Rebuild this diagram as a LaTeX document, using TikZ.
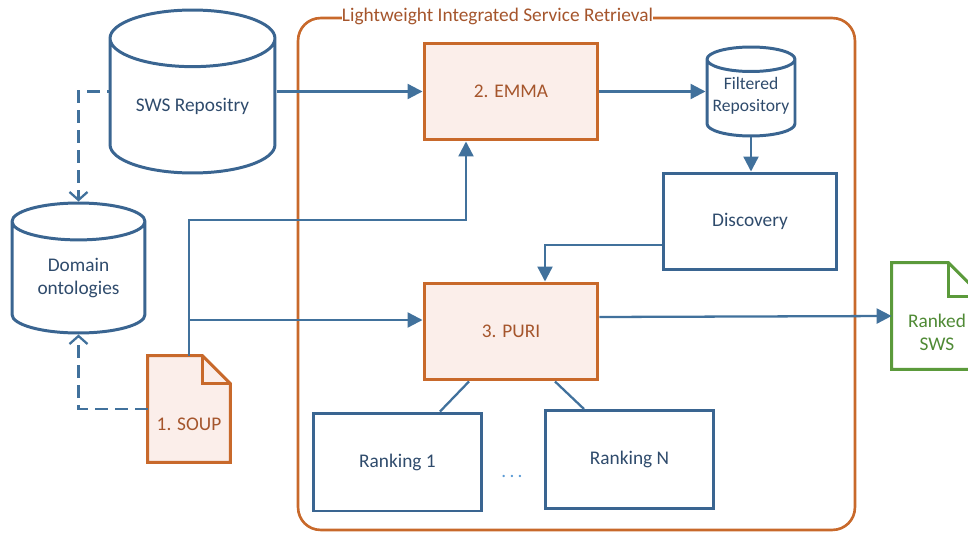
\documentclass[tikz,border=0pt]{standalone}
\usepackage{fontspec}
\setmainfont{Carlito}
\usetikzlibrary{shapes.geometric,arrows.meta,backgrounds,calc}

\definecolor{lnblue}{HTML}{41719C}
\definecolor{dbblue}{HTML}{3A6591}
\definecolor{dbtext}{HTML}{2F4B6C}
\definecolor{stageline}{HTML}{C8692B}
\definecolor{stagefill}{HTML}{FBEEEA}
\definecolor{stagetext}{HTML}{A5552C}
\definecolor{outgreen}{HTML}{5B9A3B}
\definecolor{outtext}{HTML}{4F8A35}
\definecolor{dotblue}{HTML}{5B9BD5}

\tikzset{
  store/.style={draw=dbblue, line width=1.7pt, shape=cylinder, shape border rotate=90,
    aspect=0.5, text=dbtext, align=center, inner sep=0pt, anchor=shape center},
  stage/.style={draw=stageline, fill=stagefill, line width=1.7pt, text=stagetext,
    minimum width=3.48cm, minimum height=1.94cm},
  block/.style={draw=dbblue, line width=1.7pt, text=dbtext,
    minimum width=3.38cm, minimum height=1.96cm},
  paper/.style={inner sep=0pt, align=center, text depth=0pt, text height=0.85cm},
  flow/.style={draw=lnblue, line width=1.3pt, -{Triangle[length=0.3cm,width=0.3cm]}},
  link/.style={draw=lnblue, line width=1.3pt},
  uses/.style={draw=lnblue, line width=1.3pt, dash pattern=on 0.26cm off 0.14cm,
    -{Straight Barb[length=0.16cm,width=0.36cm]}},
  frame/.style={draw=stageline, line width=1.5pt, rounded corners=0.45cm}
}

\begin{document}
\begin{tikzpicture}[x=0.02cm, y=-0.02cm, font=\fontsize{11}{13}\selectfont]
   \useasboundingbox (0,0) rectangle (968,534);

   % retrieval frame and its title
   \path (576.5,274) node[frame, minimum width=11.14cm, minimum height=10.24cm] (lisrbox) {};
   \path ($(lisrbox.north)+(-79,0)$) node[fill=white, inner sep=0pt, text=stagetext] (lisr)
     {Lightweight Integrated Service Retrieval};

   % repositories
   \path (192.5,91.5) node[store, minimum width=3.3cm, minimum height=3.26cm] (sws) {SWS Repositry};
   \path (78.5,268) node[store, aspect=0.45, minimum width=2.66cm, minimum height=2.6cm] (dom) {Domain\\ontologies};
   \path (751,91.5) node[store, aspect=0.32, minimum width=1.76cm, minimum height=1.78cm,
     font=\fontsize{10}{13}\selectfont, text height=0.67cm, text depth=0.13cm] (filt) {Filtered\\Repository};

   % stages
   \path (511,91.5) node[stage] (emma) {2. EMMA};
   \path (511,331.5) node[stage] (puri) {3. PURI};
   \path (750,221.5) node[block, minimum width=3.48cm, minimum height=1.94cm] (disc) {Discovery};
   \path (397.5,462) node[block] (rank1) {Ranking 1};
   \path (629.5,459.5) node[block] (rankn) {Ranking N};
   \path (512,476) node[text=dotblue] (more) {.\,.\,.};

   % documents
   \path (189,409) node[paper, minimum width=1.64cm, minimum height=2.12cm, text=stagetext] (soup) {1. SOUP};
   \path (937,316) node[paper, minimum width=1.8cm, minimum height=2.12cm, text=outtext,
     text height=1.37cm, text depth=0cm] (ranked) {Ranked\\SWS};
   \begin{pgfonlayer}{background}
     \filldraw[draw=stageline, fill=stagefill, line width=1.7pt]
       (soup.south west) -- (soup.north west) -- ($(soup.north east)+(-28,0)$)
       -- ($(soup.north east)+(0,28)$) -- (soup.south east) -- cycle;
     \draw[stageline, line width=1.7pt] ($(soup.north east)+(-28,0)$) |- ($(soup.north east)+(0,28)$);
     \draw[outgreen, line width=1.7pt]
       (ranked.south west) -- (ranked.north west) -- ($(ranked.north east)+(-34,0)$)
       -- ($(ranked.north east)+(0,34)$) -- (ranked.south east) -- cycle;
     \draw[outgreen, line width=1.7pt] ($(ranked.north east)+(-34,0)$) |- ($(ranked.north east)+(0,34)$);
   \end{pgfonlayer}

   % connectors
   \draw[flow] (sws.shape center -| sws.east) -- (emma.west);
   \draw[flow] (emma.east) -- (emma.east -| filt.west);
   \draw[flow] (filt.south) -- (filt.south |- disc.north);
   \draw[flow] ($(disc.west)+(0,23.5)$) -| ($(puri.north)+(34,0)$);
   \draw[flow] ($(puri.east)+(0,-14.5)$) -- (ranked.west);
   \coordinate (split) at (189,220);
   \coordinate (tap) at (189,320);
   \draw[flow] (soup.north) -- (split) -| ($(emma.south)+(-45,0)$);
   \draw[flow] (tap) -- (tap -| puri.west);
   \draw[link] ($(puri.south)+(-42,0)$) -- ($(rank1.north)+(42.5,0)$);
   \draw[link] ($(puri.south)+(44,0)$) -- ($(rankn.north)+(-45.5,0)$);
   \draw[uses, dash phase=0.22cm] (sws.shape center -| sws.west) -| (dom.north);
   \draw[uses] (soup.west) -| (dom.south);
\end{tikzpicture}
\end{document}
